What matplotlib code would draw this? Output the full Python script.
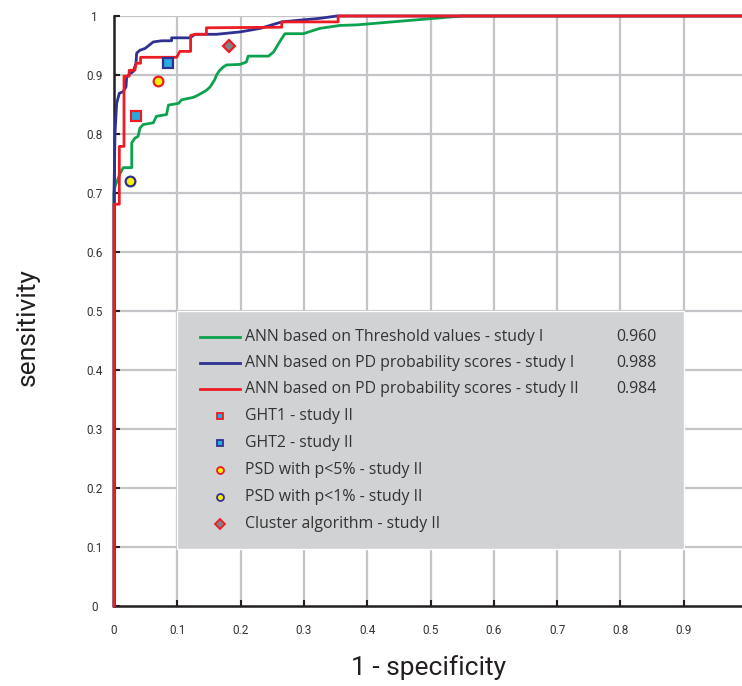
import matplotlib
matplotlib.use("Agg")
import matplotlib.pyplot as plt
from matplotlib.patches import Rectangle

# --- data ---
green_x = [0, 0, 0.0016, 0.0095, 0.0147, 0.028, 0.028, 0.033, 0.038, 0.041, 0.046, 0.062,
           0.067, 0.083, 0.086, 0.102, 0.107, 0.125, 0.133, 0.146, 0.152, 0.159, 0.162,
           0.167, 0.173, 0.178, 0.199, 0.209, 0.212, 0.244, 0.252, 0.265, 0.270, 0.299,
           0.325, 0.357, 0.384, 0.55, 1.0]
green_y = [0, 0.700, 0.711, 0.733, 0.743, 0.743, 0.785, 0.793, 0.796, 0.810, 0.816, 0.819,
           0.830, 0.833, 0.849, 0.852, 0.858, 0.862, 0.866, 0.874, 0.880, 0.892, 0.900,
           0.908, 0.914, 0.917, 0.918, 0.922, 0.932, 0.932, 0.939, 0.962, 0.970, 0.970,
           0.979, 0.984, 0.985, 1.0, 1.0]

blue_x = [0, 0, 0.0016, 0.0042, 0.0084, 0.0147, 0.019, 0.020, 0.025, 0.0305, 0.0347,
          0.0358, 0.041, 0.049, 0.062, 0.075, 0.091, 0.091, 0.120, 0.128, 0.162, 0.199,
          0.231, 0.265, 0.294, 0.325, 0.352, 1.0]
blue_y = [0, 0.700, 0.802, 0.852, 0.869, 0.872, 0.880, 0.897, 0.902, 0.906, 0.920,
          0.937, 0.942, 0.945, 0.956, 0.958, 0.958, 0.963, 0.963, 0.969, 0.969, 0.973,
          0.979, 0.990, 0.993, 0.996, 1.0, 1.0]

red_x = [0, 0, 0.0084, 0.0084, 0.0158, 0.0158, 0.024, 0.024, 0.033, 0.035, 0.042, 0.042,
         0.099, 0.104, 0.121, 0.121, 0.128, 0.146, 0.146, 0.265, 0.265, 0.354, 0.354, 1.0]
red_y = [0, 0.681, 0.681, 0.779, 0.779, 0.898, 0.898, 0.908, 0.908, 0.920, 0.920, 0.930,
         0.930, 0.940, 0.940, 0.967, 0.969, 0.969, 0.980, 0.981, 0.990, 0.990, 1.0, 1.0]

line_labels = ["ANN based on Threshold values - study I",
               "ANN based on PD probability scores - study I",
               "ANN based on PD probability scores - study II"]
auc_values = ["0.960", "0.988", "0.984"]

point_labels = ["GHT1 - study II", "GHT2 - study II", "PSD with p<5% - study II",
                "PSD with p<1% - study II", "Cluster algorithm - study II"]
point_x = [0.034, 0.086, 0.069, 0.026, 0.181]
point_y = [0.830, 0.920, 0.890, 0.720, 0.949]

ticks = [0, 0.1, 0.2, 0.3, 0.4, 0.5, 0.6, 0.7, 0.8, 0.9]
yticks = ticks + [1]

# --- styles ---
GREEN, BLUE, RED = "#0ca24e", "#2e3192", "#ed1c24"
LIGHTBLUE, YELLOW, GREY = "#27a9e1", "#fff200", "#808285"
line_colors = [GREEN, BLUE, RED]
point_styles = [
    dict(marker="s", mfc=LIGHTBLUE, mec=RED),
    dict(marker="s", mfc=LIGHTBLUE, mec=BLUE),
    dict(marker="o", mfc=YELLOW, mec=RED),
    dict(marker="o", mfc=YELLOW, mec=BLUE),
    dict(marker="D", mfc=GREY, mec=RED),
]
TXT = "#333333"
NARROW = ["Roboto", "DejaVu Sans"]
SANS = ["Open Sans", "DejaVu Sans"]

fig = plt.figure(figsize=(7.42, 6.86), dpi=100)
ax = fig.add_axes([114 / 742, 1 - 606 / 686, 1 - 114 / 742, (606 - 16) / 686])

ax.set_xlim(0, 0.992)
ax.set_ylim(0, 1)

# grid
for t in ticks[1:]:
    ax.axvline(t, color="#c4c4c8", lw=1.6, zorder=0)
for t in yticks[1:]:
    ax.axhline(t, color="#c4c4c8", lw=1.6, zorder=0)

for s in ["top", "right"]:
    ax.spines[s].set_visible(False)
for s in ["left", "bottom"]:
    ax.spines[s].set_color("#231f20")
    ax.spines[s].set_linewidth(1.8)

ax.set_xticks(ticks)
ax.set_xticklabels([f"{t:g}" for t in ticks])
ax.set_yticks(yticks)
ax.set_yticklabels([f"{t:g}" for t in yticks])
ax.tick_params(axis="both", direction="in", length=4, width=1.5, color="#231f20",
               labelsize=8.5, labelcolor=TXT)
ax.tick_params(axis="x", pad=13)
ax.tick_params(axis="y", pad=14)
for lab in ax.get_xticklabels() + ax.get_yticklabels():
    lab.set_family(NARROW)
for lab in ax.get_yticklabels():
    lab.set_horizontalalignment("center")

# curves
ax.plot(green_x, green_y, color=GREEN, lw=2, zorder=3, clip_on=False)
ax.plot(blue_x, blue_y, color=BLUE, lw=2, zorder=4, clip_on=False)
ax.plot(red_x, red_y, color=RED, lw=2, zorder=5, clip_on=False)

for x, y, st in zip(point_x, point_y, point_styles):
    ax.plot(x, y, ls="none", ms=7 if st["marker"] != "D" else 6.5, mew=1.6,
            zorder=6, **st)

# legend box
ax.add_patch(Rectangle((0.1, 0.096), 0.8, 0.404, facecolor="#d1d2d4",
                       edgecolor="white", lw=1, zorder=2))
row_y = [0.4554, 0.4114, 0.3678, 0.3220, 0.2768, 0.2305, 0.1842, 0.1390]
for i, (lab, c, v) in enumerate(zip(line_labels, line_colors, auc_values)):
    ax.plot([0.136, 0.199], [row_y[i]] * 2, color=c, lw=2, zorder=3)
    ax.text(0.207, row_y[i], lab, va="center", ha="left", fontsize=11.4,
            color=TXT, family=SANS, zorder=3)
    ax.text(0.857, row_y[i], v, va="center", ha="right", fontsize=11.4,
            color=TXT, family=SANS, zorder=3)
for j, (lab, st) in enumerate(zip(point_labels, point_styles)):
    y = row_y[3 + j]
    ax.plot(0.1675, y, ls="none", ms=5, mew=1.3, zorder=3, **st)
    ax.text(0.207, y, lab, va="center", ha="left", fontsize=11.4,
            color=TXT, family=SANS, zorder=3)

fig.text(0.5775, 1 - 668 / 686, "1 - specificity", ha="center", va="center",
         fontsize=19, color="#231f20", family=NARROW)
fig.text(28 / 742, 1 - 327 / 686, "sensitivity", ha="center", va="center",
         rotation=90, fontsize=19, color="#231f20", family=NARROW)

fig.savefig("out.png", dpi=100)
